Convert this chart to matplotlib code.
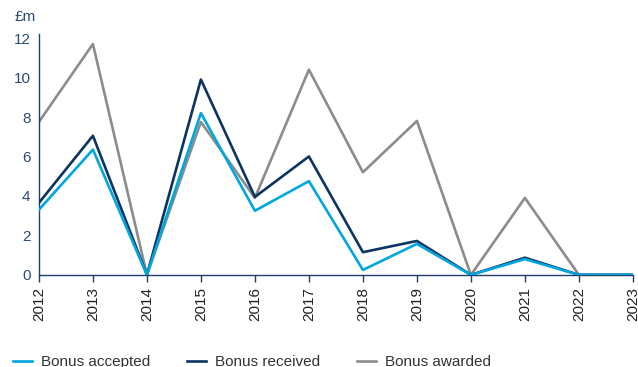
"""
Bónus por ano: aceite, recebido e atribuído (£m), 2012–2023.
"""

import matplotlib
matplotlib.use("Agg")
import matplotlib.pyplot as plt


# ─────────────────────────────────────────────
# DADOS
# ─────────────────────────────────────────────

anos = [2012, 2013, 2014, 2015, 2016, 2017, 2018, 2019, 2020, 2021, 2022, 2023]

bonus_aceite = [3.3, 6.35, 0.0, 8.2, 3.25, 4.75, 0.25, 1.57, 0.0, 0.8, 0.0, 0.0]
bonus_recebido = [3.65, 7.05, 0.0, 9.9, 3.95, 6.0, 1.15, 1.72, 0.0, 0.87, 0.0, 0.0]
bonus_atribuido = [7.75, 11.7, 0.0, 7.75, 3.9, 10.4, 5.2, 7.8, 0.0, 3.9, 0.0, 0.0]

rotulos_y = [0, 2, 4, 6, 8, 10, 12]


# ─────────────────────────────────────────────
# ESTILO
# ─────────────────────────────────────────────

CIANO = "#00a6e0"
AZUL_ESCURO = "#0c3461"
CINZA = "#8c8c8c"
TEXTO = "#2a4a78"
EIXO = "#1f3f6c"

plt.rcParams["font.family"] = ["Liberation Sans", "DejaVu Sans"]


# ─────────────────────────────────────────────
# GRÁFICO
# ─────────────────────────────────────────────

fig = plt.figure(figsize=(6.38, 3.67), dpi=100)
ax = fig.add_axes([0.061, 0.251, 0.931, 0.656])

ax.plot(anos, bonus_atribuido, color=CINZA, linewidth=1.9, label="Bonus awarded", zorder=2)
ax.plot(anos, bonus_recebido, color=AZUL_ESCURO, linewidth=1.9, label="Bonus received", zorder=3)
ax.plot(anos, bonus_aceite, color=CIANO, linewidth=1.9, label="Bonus accepted", zorder=4)

ax.set_xlim(2012, 2023)
ax.set_ylim(0, 12.2)
ax.set_xticks(anos)
ax.set_xticklabels([str(a) for a in anos], rotation=90)
ax.set_yticks(rotulos_y)

for lado in ["top", "right"]:
    ax.spines[lado].set_visible(False)
for lado in ["left", "bottom"]:
    ax.spines[lado].set_color(EIXO)
    ax.spines[lado].set_linewidth(1.0)

ax.tick_params(axis="x", length=5, width=1.0, color=EIXO, labelcolor="#222222",
               labelsize=11, pad=4)
ax.tick_params(axis="y", length=0, labelcolor=TEXTO, labelsize=11, pad=6)

fig.text(0.022, 0.955, "£m", color=TEXTO, fontsize=11, va="center")

# Legenda na base, na ordem aceite → recebido → atribuído
linhas = ax.get_lines()[::-1]
fig.legend(
    linhas, [l.get_label() for l in linhas],
    loc="center left", bbox_to_anchor=(0.020, 0.014),
    ncol=3, frameon=False, fontsize=11, borderpad=0, borderaxespad=0,
    handlelength=1.25, handletextpad=0.6, columnspacing=2.4,
    labelcolor="#333333",
)

plt.savefig("out.png", dpi=100)
